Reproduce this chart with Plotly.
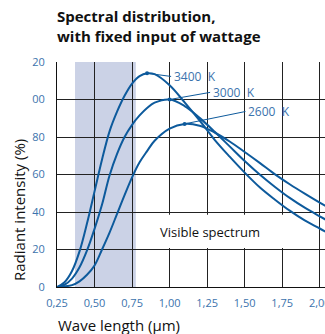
import plotly.graph_objects as go

# Wavelength (µm) sample points
wavelength = [0.25, 0.30, 0.35, 0.40, 0.45, 0.50, 0.55, 0.60, 0.65, 0.70, 0.75, 0.80, 0.85,
              0.90, 1.00, 1.10, 1.20, 1.30, 1.40, 1.50, 1.60, 1.70, 1.80, 1.90, 2.00, 2.04]

# Radiant intensity (%) for each colour temperature
k3400 = [0, 2.5, 8.5, 19, 34, 51, 68, 83, 93.5, 102, 108.5, 112.5, 114,
         113.5, 107.6, 98.5, 88.8, 78.5, 69.5, 61, 53.2, 46.7, 40.7, 35.5, 31.2, 29.4]
k3000 = [0, 1.2, 4.5, 10.5, 19.5, 31, 44, 59.5, 71, 80, 86.5, 91.5, 95.5,
         98.3, 100, 96.5, 90.2, 82.8, 75, 67.2, 60, 53.5, 47.5, 42.3, 37.7, 35.9]
k2600 = [0, 0.3, 1, 3, 6.5, 11.5, 20, 29, 39, 49, 58.5, 66.5, 72.5,
         78, 84.5, 87, 86, 82.4, 77.6, 72, 66.2, 60.2, 54.8, 49.8, 45, 43.2]

series_names = ["3400  K", "3000  K", "2600  K"]
series_values = [k3400, k3000, k2600]
label_x = [1.01, 1.27, 1.505]
label_y = [112.3, 103.8, 93.6]

x_ticks = [0.25, 0.50, 0.75, 1.00, 1.25, 1.50, 1.75, 2.00]
x_ticktext = ["0,25", "0,50", "0,75", "1,00", "1,25", "1,50", "1,75", "2,00"]
y_ticks = [0, 20, 40, 60, 80, 100, 120]
y_ticktext = ["0", "20", "40", "60", "80", "00", "20"]

visible_band = [0.37, 0.775]

LINE = "#0d5a9c"
TICK = "#3b73ad"
FONT = "Open Sans"

fig = go.Figure()

for name, vals, lx, ly in zip(series_names, series_values, label_x, label_y):
    fig.add_trace(go.Scatter(x=wavelength, y=vals, mode="lines",
                             line=dict(color=LINE, width=2, shape="spline", smoothing=1.0),
                             showlegend=False, hoverinfo="skip"))
    i = max(range(len(vals)), key=lambda j: vals[j])
    px, py = wavelength[i], vals[i]
    fig.add_trace(go.Scatter(x=[px, lx], y=[py, ly], mode="lines",
                             line=dict(color=LINE, width=1), showlegend=False, hoverinfo="skip"))
    fig.add_trace(go.Scatter(x=[px], y=[py], mode="markers",
                             marker=dict(color=LINE, size=4), showlegend=False, hoverinfo="skip"))
    fig.add_annotation(x=lx, y=ly, text=name, showarrow=False, xanchor="left", yanchor="middle",
                       font=dict(family=FONT, size=12, color=TICK), xshift=1)

fig.add_shape(type="rect", x0=visible_band[0], x1=visible_band[1], y0=0, y1=120,
              xref="x", yref="y", fillcolor="#cbd2e6", line_width=0, layer="below")
fig.add_shape(type="rect", x0=0.8, x1=1.9, y0=20.8, y1=38.5,
              xref="x", yref="y", fillcolor="white", line_width=0, layer="between")
fig.add_annotation(x=1.268, y=29.3, text="Visible spectrum", showarrow=False,
                   font=dict(family=FONT, size=13, color="#111111"))

fig.add_annotation(xref="paper", yref="paper", x=-0.142, y=0.342, text="Radiant intensity (%)",
                   textangle=-90, showarrow=False, xanchor="center", yanchor="middle",
                   font=dict(family=FONT, size=15, color="#111111"))
fig.add_annotation(xref="paper", yref="paper", x=-0.005, y=-0.168, text="Wave length (µm)",
                   showarrow=False, xanchor="left", yanchor="middle",
                   font=dict(family=FONT, size=15, color="#111111"))

fig.update_layout(
    width=325, height=334,
    margin=dict(l=57, r=0, t=62, b=47, autoexpand=False),
    paper_bgcolor="white", plot_bgcolor="white",
    title=dict(text="<b>Spectral distribution,<br>with fixed input of wattage</b>",
               x=57 / 325, xanchor="left", xref="container",
               y=1 - 22 / 334, yanchor="top", yref="container",
               font=dict(family=FONT, size=15, color="#111111")),
    xaxis=dict(range=[0.25, 2.035], tickvals=x_ticks, ticktext=x_ticktext,
               showgrid=True, gridcolor="#222222", gridwidth=1, zeroline=False,
               showline=True, linecolor="#111111", linewidth=1, automargin=False,
               ticks="", ticklabelstandoff=6, ticklabeloverflow="allow",
               tickfont=dict(family=FONT, size=11, color=TICK)),
    yaxis=dict(range=[0, 120], tickvals=y_ticks, ticktext=y_ticktext,
               showgrid=True, gridcolor="#222222", gridwidth=1, zeroline=False,
               showline=True, linecolor="#111111", linewidth=1, automargin=False,
               ticks="", ticklabelstandoff=9,
               tickfont=dict(family=FONT, size=11, color=TICK)),
)

fig.write_html("out.html", config={"displayModeBar": False},
               post_script="document.body.style.margin='0';document.body.style.padding='0';")
